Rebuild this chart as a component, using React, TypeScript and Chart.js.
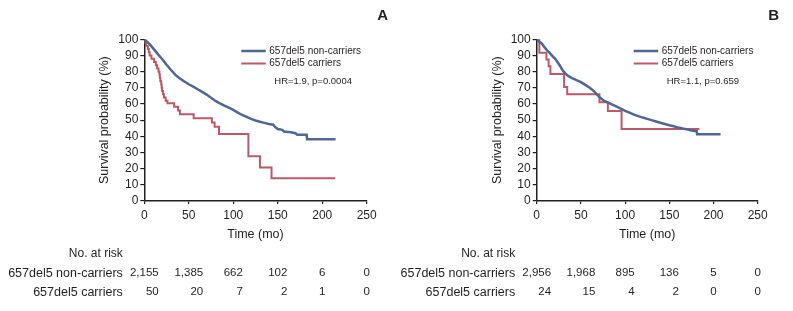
import React, { useEffect, useRef } from 'react';
import { Chart, registerables } from 'chart.js';

Chart.register(...registerables);

const FONT = '"Liberation Sans", Arial, Helvetica, sans-serif';
const TEXT = '#231f20';
const BLUE = '#4f6792';
const RED = '#b95a6a';

// ---------- shared ----------
const timeTicks = [0, 50, 100, 150, 200, 250];
const seriesNames = ['657del5 non-carriers', '657del5 carriers'];

// ---------- panel A ----------
const aNonTime = [0, 3, 6, 10, 15, 20, 25, 30, 35, 40, 45, 50, 55, 60, 65, 70, 75, 80, 85, 90, 95, 100, 105, 110, 115, 120, 125, 130, 135, 140, 145, 147, 150, 155, 157, 165, 170, 172, 182.5, 183, 215];
const aNonSurv = [100, 98.5, 97, 94.4, 91, 87.8, 84.3, 81, 78, 75.8, 73.9, 72.2, 70.7, 69.1, 67.5, 65.8, 63.8, 61.9, 60.4, 59, 57.7, 56.3, 54.7, 53.2, 52, 50.8, 49.8, 49, 48.3, 47.6, 47.2, 45.8, 44.5, 44, 43, 42.5, 41.9, 40.9, 40.9, 38.2, 38.2];
const aCarTime = [0, 1, 2, 4, 5, 6, 8, 11, 13, 14.5, 16, 17, 17.5, 18, 19, 19.5, 20, 21, 22, 24, 26, 33.5, 38, 40, 55.5, 76, 79, 84, 117, 130, 143, 214.5];
const aCarSurv = [100, 98, 96, 94, 92, 90, 88, 86, 84, 82, 80, 78, 76, 74, 72, 70, 68, 66, 64, 62, 60.4, 58.3, 56, 53.6, 51.1, 48.6, 45.9, 41.5, 27.6, 20.7, 14, 14];
const aRiskNon = ['2,155', '1,385', '662', '102', '6', '0'];
const aRiskCar = ['50', '20', '7', '2', '1', '0'];
const aStat = 'HR=1.9, p=0.0004';
const aLetter = 'A';

// ---------- panel B ----------
const bNonTime = [0, 3, 6, 9, 12, 15, 18, 21, 24, 27, 30, 33, 36, 40, 45, 50, 55, 60, 65, 68, 72, 76, 80, 85, 90, 95, 100, 105, 110, 115, 120, 125, 130, 135, 140, 145, 150, 155, 160, 165, 170, 175, 181, 181.5, 208];
const bNonSurv = [100, 98.5, 97.3, 95, 93, 91.5, 89.5, 88, 85.5, 83, 80.3, 78.5, 77.2, 76, 74.8, 73.5, 71.8, 70, 67.8, 66, 63.8, 62, 61, 59.8, 58.5, 57.2, 55.8, 54.6, 53.4, 52.5, 51.6, 50.8, 50, 49.2, 48.4, 47.6, 46.8, 46.2, 45.4, 44.8, 44.3, 43.6, 43.2, 41.3, 41.3];
const bCarTime = [0, 3, 11, 13.5, 15.5, 31, 34.5, 71, 80.5, 96, 184];
const bCarSurv = [100, 91.7, 87.5, 83.3, 78.6, 70.5, 66, 61, 55.7, 44.5, 44.5];
const bRiskNon = ['2,956', '1,968', '895', '136', '5', '0'];
const bRiskCar = ['24', '15', '4', '2', '0', '0'];
const bStat = 'HR=1.1, p=0.659';
const bLetter = 'B';

type PanelProps = {
  left: number;
  width: number;
  padLeft: number;
  yWidth: number;
  padRight: number;
  nonTime: number[];
  nonSurv: number[];
  carTime: number[];
  carSurv: number[];
  riskNon: string[];
  riskCar: string[];
  stat: string;
  letter: string;
};

const HEIGHT = 311;

function toPoints(t: number[], s: number[]) {
  return t.map((x, i) => ({ x, y: s[i] }));
}

function Panel(p: PanelProps) {
  const ref = useRef<HTMLCanvasElement | null>(null);

  useEffect(() => {
    if (!ref.current) return;
    const overlay = {
      id: 'kmOverlay',
      afterDraw(chart: any) {
        const { ctx, chartArea: ca, scales } = chart;
        const xs = scales.x;
        ctx.save();
        ctx.fillStyle = TEXT;
        ctx.textBaseline = 'middle';

        // legend
        const ds = chart.data.datasets;
        const legendRows = [
          { y: 51, i: 0 },
          { y: 63.5, i: 1 },
        ];
        ctx.font = `10px ${FONT}`;
        ctx.textAlign = 'left';
        legendRows.forEach((r) => {
          ctx.strokeStyle = ds[r.i].borderColor;
          ctx.lineWidth = ds[r.i].borderWidth;
          ctx.beginPath();
          ctx.moveTo(ca.left + 97, r.y);
          ctx.lineTo(ca.left + 121.5, r.y);
          ctx.stroke();
          ctx.fillText(ds[r.i].label, ca.left + 125, r.y);
        });
        ctx.font = `9.5px ${FONT}`;
        ctx.fillText(p.stat, ca.left + 130, 81);

        // panel letter
        ctx.font = `bold 15px ${FONT}`;
        ctx.textAlign = 'center';
        ctx.fillText(p.letter, ca.right + 16, 16);

        // risk table
        ctx.textAlign = 'right';
        ctx.font = `12px ${FONT}`;
        ctx.fillText('No. at risk', ca.left - 21.5, 254);
        ctx.font = `12.5px ${FONT}`;
        ctx.fillText(seriesNames[0], ca.left - 21.5, 273.3);
        ctx.fillText(seriesNames[1], ca.left - 21.5, 292.3);
        ctx.font = `11.5px ${FONT}`;
        timeTicks.forEach((t, i) => {
          const px = xs.getPixelForValue(t);
          const w = ctx.measureText(p.riskNon[i]).width;
          const right = px + w / 2;
          ctx.fillText(p.riskNon[i], right, 273.3);
          ctx.fillText(p.riskCar[i], right, 292.3);
        });
        ctx.restore();
      },
    };

    const chart = new Chart(ref.current, {
      type: 'line',
      data: {
        datasets: [
          {
            label: seriesNames[0],
            data: toPoints(p.nonTime, p.nonSurv),
            borderColor: BLUE,
            borderWidth: 2.5,
            pointRadius: 0,
            stepped: false,
            tension: 0,
            fill: false,
          },
          {
            label: seriesNames[1],
            data: toPoints(p.carTime, p.carSurv),
            borderColor: RED,
            borderWidth: 2,
            pointRadius: 0,
            stepped: 'before',
            fill: false,
          },
        ],
      },
      options: {
        animation: false,
        responsive: false,
        devicePixelRatio: 1,
        layout: {
          padding: { left: p.padLeft, right: p.padRight, top: 39.3, bottom: 68.5 },
        },
        plugins: {
          legend: { display: false },
          tooltip: { enabled: false },
        },
        scales: {
          x: {
            type: 'linear',
            min: 0,
            max: 250,
            afterFit: (s: any) => {
              s.height = 41.5;
            },
            ticks: {
              stepSize: 50,
              autoSkip: false,
              color: TEXT,
              padding: 4.5,
              font: { family: FONT, size: 12 },
              maxRotation: 0,
              callback: (v: any) => String(v),
            },
            afterBuildTicks: (s: any) => {
              s.ticks = timeTicks.map((v) => ({ value: v }));
            },
            grid: { drawOnChartArea: false, drawTicks: true, tickLength: 3, color: TEXT, lineWidth: 1.2 },
            border: { display: true, color: TEXT, width: 1.5 },
            title: {
              display: true,
              text: 'Time (mo)',
              color: TEXT,
              padding: 0,
              font: { family: FONT, size: 12.5 },
            },
          },
          y: {
            type: 'linear',
            min: 0,
            max: 100,
            afterFit: (s: any) => {
              s.width = p.yWidth;
            },
            ticks: {
              stepSize: 10,
              autoSkip: false,
              color: TEXT,
              padding: 2,
              font: { family: FONT, size: 12 },
            },
            grid: { drawOnChartArea: false, drawTicks: true, tickLength: 4, color: TEXT, lineWidth: 1.2 },
            border: { display: true, color: TEXT, width: 1.5 },
            title: {
              display: true,
              text: 'Survival probability (%)',
              color: TEXT,
              padding: 0,
              font: { family: FONT, size: 12.5 },
            },
          },
        },
      },
      plugins: [overlay],
    } as any);
    return () => chart.destroy();
  }, []);

  return (
    <canvas
      ref={ref}
      width={p.width}
      height={HEIGHT}
      style={{ position: 'absolute', left: p.left, top: 0, width: p.width, height: HEIGHT }}
    />
  );
}

export default function App() {
  return (
    <div style={{ position: 'absolute', left: 0, top: 0, width: 793, height: HEIGHT, background: '#fff' }}>
      <Panel
        left={0}
        width={396}
        padLeft={97.5}
        yWidth={46.8}
        padRight={29.3}
        nonTime={aNonTime}
        nonSurv={aNonSurv}
        carTime={aCarTime}
        carSurv={aCarSurv}
        riskNon={aRiskNon}
        riskCar={aRiskCar}
        stat={aStat}
        letter={aLetter}
      />
      <Panel
        left={396}
        width={397}
        padLeft={94.2}
        yWidth={46.5}
        padRight={35.3}
        nonTime={bNonTime}
        nonSurv={bNonSurv}
        carTime={bCarTime}
        carSurv={bCarSurv}
        riskNon={bRiskNon}
        riskCar={bRiskCar}
        stat={bStat}
        letter={bLetter}
      />
    </div>
  );
}
